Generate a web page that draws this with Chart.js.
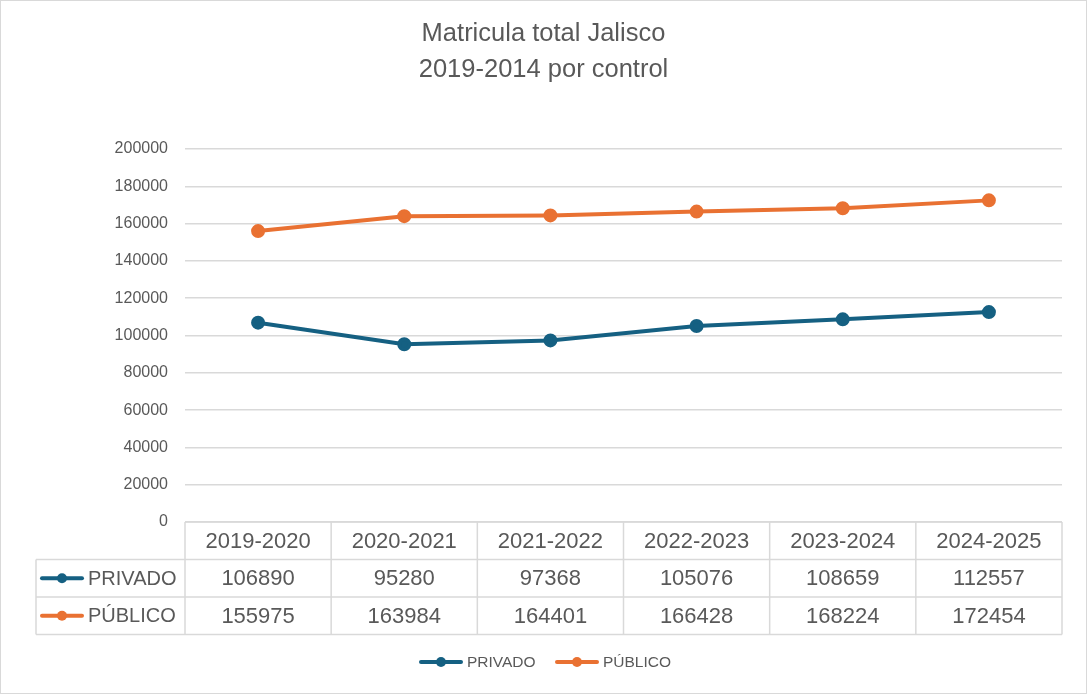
<!DOCTYPE html>
<html><head><meta charset="utf-8">
<script src="https://cdn.jsdelivr.net/npm/chart.js@4.4.1/dist/chart.umd.min.js"></script>
<style>html,body{margin:0;padding:0;background:#fff}#wrap{width:1087px;height:694px;position:relative}canvas{display:block}</style>
</head><body><div id="wrap"><canvas id="c" width="1087" height="694"></canvas></div>
<script>
const titleLines = ['Matricula total Jalisco', '2019-2014 por control'];
const categories = ['2019-2020', '2020-2021', '2021-2022', '2022-2023', '2023-2024', '2024-2025'];
const privado = [106890, 95280, 97368, 105076, 108659, 112557];
const publico = [155975, 163984, 164401, 166428, 168224, 172454];
const seriesNames = ['PRIVADO', 'PÚBLICO'];
const seriesColors = ['#156082', '#E97132'];
const yMin = 0, yMax = 200000, yStep = 20000;

const TXT = '#595959';
const GRID = '#d9d9d9';
const FONT = "'Liberation Sans', Arial, sans-serif";

function drawSymbol(ctx, x, y, color) {
  ctx.save();
  ctx.strokeStyle = color; ctx.lineWidth = 4; ctx.lineCap = 'round';
  ctx.beginPath(); ctx.moveTo(x - 20, y); ctx.lineTo(x + 20, y); ctx.stroke();
  ctx.fillStyle = color;
  ctx.beginPath(); ctx.arc(x, y, 5, 0, Math.PI * 2); ctx.fill();
  ctx.restore();
}

const tablePlugin = {
  id: 'tablePlugin',
  afterDraw(chart) {
    const ctx = chart.ctx;
    const area = chart.chartArea;
    const xs = chart.scales.x;
    const n = categories.length;
    const colW = (area.right - area.left) / n;
    const rowH = 37.5;
    const top = area.bottom;
    const tableLeft = 36;
    const rows = [privado, publico];
    ctx.save();

    // title
    ctx.fillStyle = TXT;
    ctx.textAlign = 'center'; ctx.textBaseline = 'middle';
    ctx.font = '25.5px ' + FONT;
    titleLines.forEach((t, i) => ctx.fillText(t, chart.width / 2, 34 + i * 36));

    ctx.strokeStyle = GRID; ctx.lineWidth = 1.5;
    ctx.beginPath();
    ctx.moveTo(area.left, top); ctx.lineTo(area.right, top);
    for (let r = 1; r <= 3; r++) {
      const y = top + r * rowH;
      ctx.moveTo(tableLeft, y); ctx.lineTo(area.right, y);
    }
    for (let i = 0; i <= n; i++) {
      const x = area.left + i * colW;
      ctx.moveTo(x, top); ctx.lineTo(x, top + 3 * rowH);
    }
    ctx.moveTo(tableLeft, top + rowH); ctx.lineTo(tableLeft, top + 3 * rowH);
    ctx.stroke();

    ctx.fillStyle = TXT;
    ctx.font = '22px ' + FONT;
    categories.forEach((c, i) => {
      ctx.fillText(c, xs.getPixelForValue(i), top + rowH / 2 + 1);
    });
    rows.forEach((vals, r) => {
      const y = top + (r + 1) * rowH + rowH / 2 + 1;
      ctx.font = '22px ' + FONT;
      ctx.textAlign = 'center';
      vals.forEach((v, i) => {
        ctx.fillText(String(v), xs.getPixelForValue(i), y);
      });
      drawSymbol(ctx, 62, y - 1, seriesColors[r]);
      ctx.font = '20px ' + FONT;
      ctx.textAlign = 'left';
      ctx.fillText(seriesNames[r], 88, y);
    });

    ctx.font = '15.5px ' + FONT;
    ctx.textAlign = 'left';
    const ly = 662;
    const legendX = [441, 577];
    seriesNames.forEach((name, r) => {
      drawSymbol(ctx, legendX[r], ly, seriesColors[r]);
      ctx.fillStyle = TXT;
      ctx.fillText(name, legendX[r] + 26, ly + 1);
    });

    ctx.strokeStyle = '#d9d9d9'; ctx.lineWidth = 1;
    ctx.strokeRect(0.5, 0.5, chart.width - 1, chart.height - 1);
    ctx.restore();
  }
};

new Chart(document.getElementById('c'), {
  type: 'line',
  data: {
    labels: categories,
    datasets: [
      { label: seriesNames[0], data: privado, borderColor: seriesColors[0], backgroundColor: seriesColors[0],
        borderWidth: 4, pointRadius: 5, pointHoverRadius: 5, tension: 0 },
      { label: seriesNames[1], data: publico, borderColor: seriesColors[1], backgroundColor: seriesColors[1],
        borderWidth: 4, pointRadius: 5, pointHoverRadius: 5, tension: 0 }
    ]
  },
  options: {
    responsive: false,
    animation: false,
    devicePixelRatio: 1,
    layout: { padding: { left: 0, right: 25, top: 149, bottom: 172 } },
    plugins: {
      legend: { display: false },
      tooltip: { enabled: false },
      title: { display: false }
    },
    scales: {
      x: { type: 'category', offset: true, display: false },
      y: {
        min: yMin, max: yMax,
        ticks: { stepSize: yStep, color: TXT, font: { family: FONT, size: 16 }, padding: 17,
          callback: (v) => String(v) },
        grid: { color: GRID, lineWidth: 1.5, drawTicks: false },
        border: { display: false },
        afterFit(scale) { scale.width = 185; }
      }
    }
  },
  plugins: [tablePlugin]
});
</script>
</body></html>
